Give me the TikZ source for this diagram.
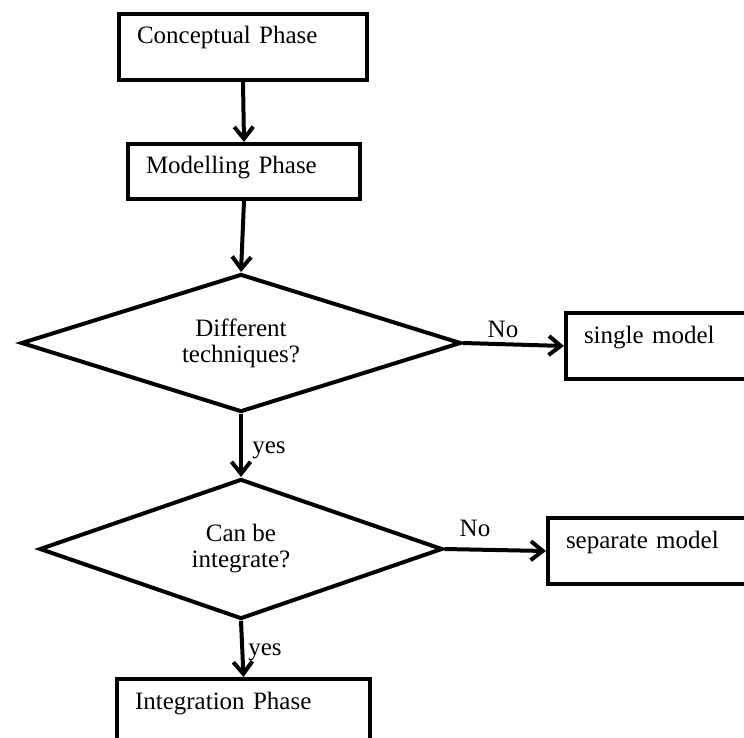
\documentclass[tikz,border=0pt]{standalone}
\usepackage{fontspec}
\setmainfont{Liberation Serif}
\usetikzlibrary{arrows.meta,shapes.geometric}
\begin{document}
\begin{tikzpicture}[x=1pt, y=-1pt,
    every node/.style={font=\fontsize{25}{26}\selectfont},
    phasebox/.style={draw, line width=4pt, rectangle, anchor=north west, align=left,
      inner xsep=18pt, inner ysep=0pt, text height=30pt, text depth=36pt},
    decision/.style={draw, line width=4pt, diamond, aspect=3.2, align=center, inner sep=0pt},
    flow/.style={line width=4pt, -{Straight Barb[length=12pt,width=19pt]}},
    lbl/.style={anchor=base, inner sep=0pt}]
  \useasboundingbox (0,0) rectangle (744,738);
  \clip (0,0) rectangle (744,738);

  % Phases
  \node[phasebox, text width=212pt] (concept) at (117,12) {Conceptual Phase};
  \node[phasebox, text width=196pt, text depth=25pt] (model) at (126,142) {Modelling Phase};
  \node[phasebox, text width=217pt] (integration) at (115,677) {Integration Phase};

  % Decisions
  \node[decision, minimum width=440pt, minimum height=138pt] (tech) at (241,343) {Different\\techniques?};
  \node[decision, minimum width=403pt, minimum height=140pt] (integ) at (241,549) {Can be\\integrate?};

  % Outcomes
  \node[phasebox, text width=164pt] (single) at (564,311) {single model};
  \node[phasebox, text width=184pt] (separate) at (546,516) {separate model};

  % Flow
  \draw[flow] (concept.south) -- (model.north);
  \draw[flow] (model.south) -- (tech.north);
  \draw[flow] (tech.south) -- (integ.north);
  \draw[flow] (integ.south) -- (integration.north);
  \draw[flow] (tech.east) -- (single.west);
  \draw[flow] (integ.east) -- (separate.west);

  % Labels
  \node[lbl] (no1) at (503,337) {No};
  \node[lbl] (no2) at (475,536) {No};
  \node[lbl] (yes1) at (269,453) {yes};
  \node[lbl] (yes2) at (265,655) {yes};
\end{tikzpicture}
\end{document}
